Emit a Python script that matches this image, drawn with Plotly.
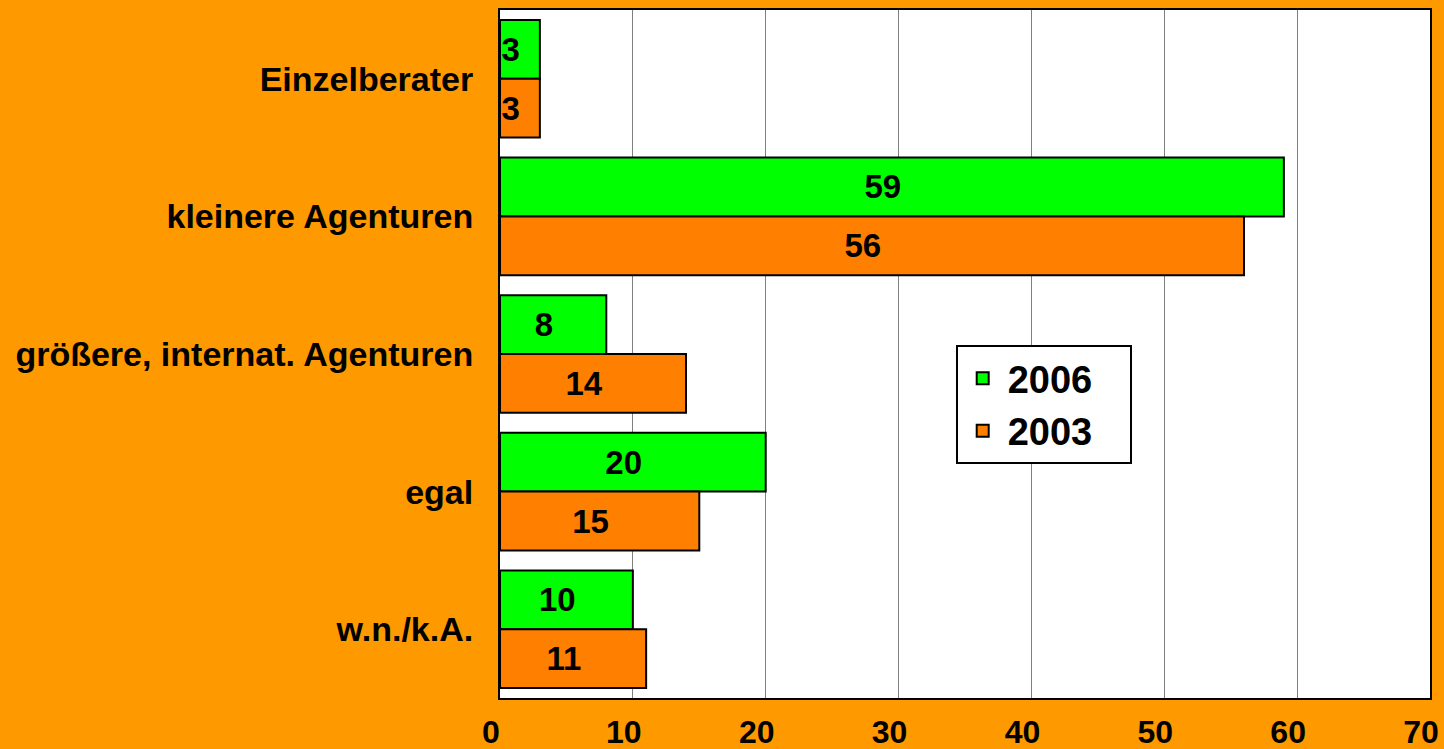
import plotly.graph_objects as go

categories = ["Einzelberater", "kleinere Agenturen", "größere, internat. Agenturen", "egal", "w.n./k.A."]
values_2006 = [3, 59, 8, 20, 10]
values_2003 = [3, 56, 14, 15, 11]
x_ticks = [0, 10, 20, 30, 40, 50, 60, 70]

FONT = "Arial, Liberation Sans, sans-serif"
label_size = 33
NB = "\u00a0"

fig = go.Figure()
fig.add_trace(go.Bar(
    name="2006" + NB * 3, y=categories, x=values_2006, orientation="h",
    marker=dict(color="#00FF00", line=dict(color="black", width=2)),
    texttemplate="%{x}" + NB * 2, textposition="inside", insidetextanchor="middle",
    constraintext="none",
    textfont=dict(family=FONT, size=label_size, color="black", weight="bold"),
))
fig.add_trace(go.Bar(
    name="2003" + NB * 3, y=categories, x=values_2003, orientation="h",
    marker=dict(color="#FF8000", line=dict(color="black", width=2)),
    texttemplate="%{x}" + NB * 2, textposition="inside", insidetextanchor="middle",
    constraintext="none",
    textfont=dict(family=FONT, size=label_size, color="black", weight="bold"),
))

fig.update_layout(
    width=1444, height=749,
    barmode="group", bargap=0.145, bargroupgap=0,
    paper_bgcolor="#FF9900", plot_bgcolor="white",
    margin=dict(l=500, r=14, t=10, b=51),
    font=dict(family=FONT, size=33, color="black", weight="bold"),
    xaxis=dict(range=[0, 70], tickvals=x_ticks, showgrid=True, gridcolor="#808080", gridwidth=1,
               showline=True, linecolor="black", linewidth=2, mirror=True, zeroline=False,
               ticks="", ticklabelshift=-9, ticklabelstandoff=5, automargin=False,
               tickfont=dict(family=FONT, size=32, color="black", weight="bold")),
    yaxis=dict(autorange="reversed", showline=True, linecolor="black", linewidth=2, mirror=True,
               ticks="", ticklabelstandoff=18, automargin=False,
               tickfont=dict(family=FONT, size=34, color="black", weight="bold")),
    legend=dict(x=0.49, y=0.513, xanchor="left", yanchor="top", bgcolor="white",
                bordercolor="black", borderwidth=2, traceorder="normal", itemwidth=40,
                font=dict(family=FONT, size=38, color="black", weight="bold")),
    showlegend=True,
)

fig.write_html("out.html", config={"displayModeBar": False},
               post_script="document.body.style.margin='0px';")
